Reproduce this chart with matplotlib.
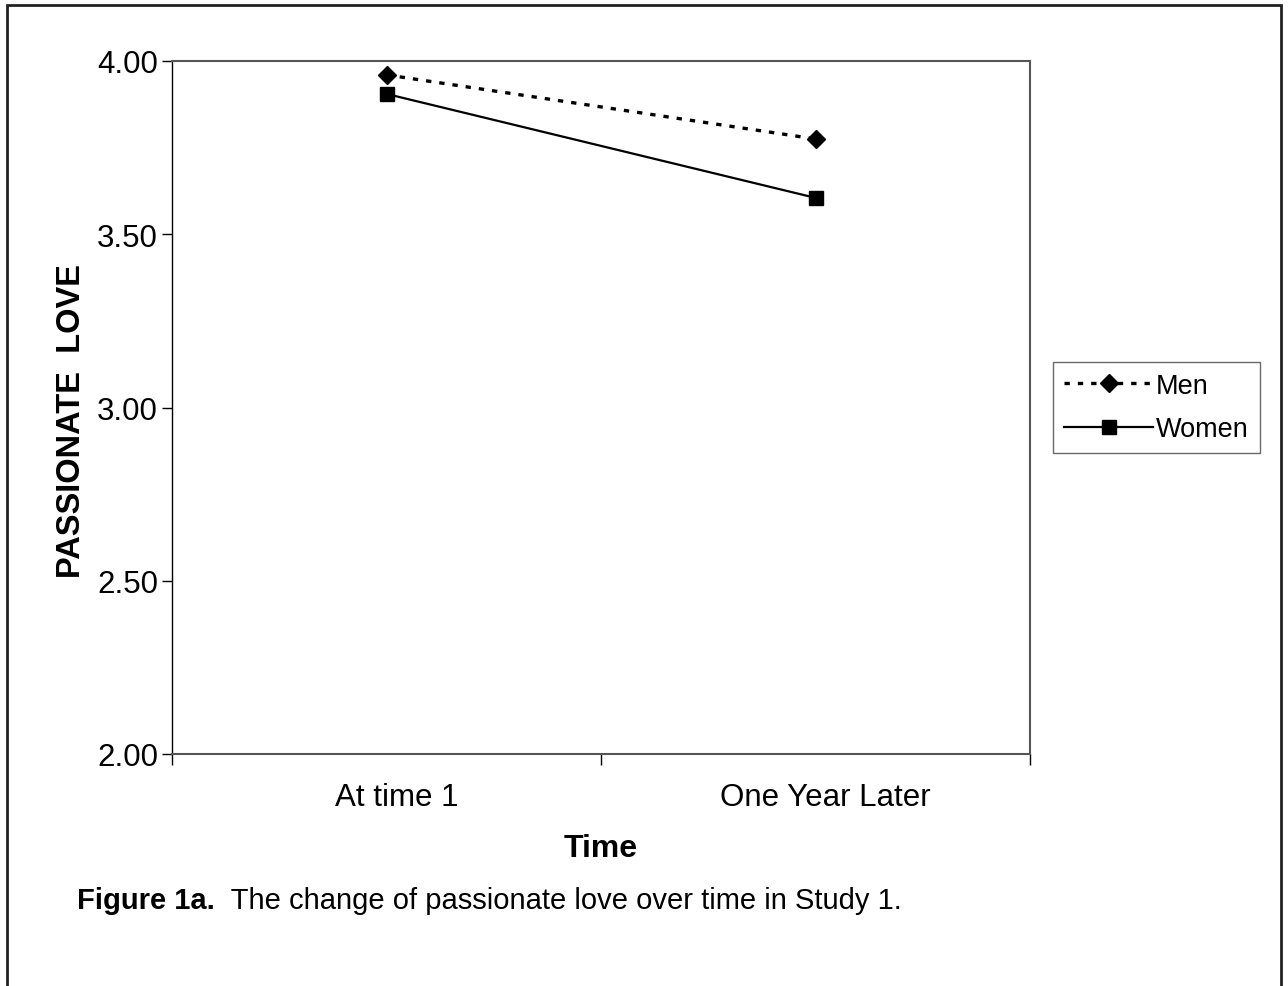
import numpy as np
import matplotlib.pyplot as plt
from matplotlib.patches import Rectangle
from matplotlib.transforms import ScaledTranslation

plt.rcParams['font.family'] = ['Liberation Sans', 'DejaVu Sans']

# data
times = ["At time 1", "One Year Later"]
men = [3.96, 3.775]
women = [3.905, 3.605]
y_ticks = [2.00, 2.50, 3.00, 3.50, 4.00]

fig = plt.figure(figsize=(12.88, 9.87), dpi=100)
ax = fig.add_axes([172 / 1288, 1 - 755 / 987, (1030 - 172) / 1288, (755 - 62) / 987])

x = np.arange(len(times)) + 0.5
ax.plot(x, men, color='black', lw=2.4, linestyle=(0, (1.6, 2.4)),
        dash_capstyle='butt', marker='D', ms=9, label='Men')
ax.plot(x, women, color='black', lw=1.6, marker='s', ms=10, label='Women')

ax.set_xlim(0, 2)
ax.set_ylim(2, 4)
ax.set_yticks(y_ticks)
ax.set_yticklabels([f"{v:.2f}" for v in y_ticks], fontsize=22.5)
ax.set_xticks([0, 1, 2])
ax.set_xticklabels([])
ax.set_xticks(x, minor=True)
ax.set_xticklabels(times, minor=True, fontsize=22.5)
ax.tick_params(axis='x', which='minor', length=0, pad=20)
ax.tick_params(axis='x', which='major', length=8, width=1, direction='out')
ax.tick_params(axis='y', length=7, width=1, direction='out', pad=3)
# the category labels sit a little right of the points in the original
for lbl in ax.get_xticklabels(minor=True):
    lbl.set_transform(lbl.get_transform() + ScaledTranslation(0.1, 0, fig.dpi_scale_trans))

for side in ['top', 'right', 'bottom']:
    ax.spines[side].set_color('#555555')
    ax.spines[side].set_linewidth(1.5)
ax.spines['left'].set_color('black')
ax.spines['left'].set_linewidth(1)

ax.set_ylabel("PASSIONATE  LOVE", fontsize=23.5, fontweight='bold')
ax.yaxis.set_label_coords(-0.099, 0.482)
ax.set_xlabel("Time", fontsize=23, fontweight='bold', labelpad=15)

leg = fig.legend(loc='upper left', bbox_to_anchor=(1053 / 1288, 1 - 363 / 987),
                 fontsize=19.5, frameon=True, fancybox=False, handlelength=3.3,
                 handletextpad=0.1, borderpad=0.4, labelspacing=0.65,
                 borderaxespad=0)
leg.get_frame().set_edgecolor('#444444')
leg.get_frame().set_linewidth(1)

# caption: bold label followed by regular text
cap = fig.text(77 / 1288, 1 - 909 / 987, "Figure 1a.", fontsize=21,
               fontweight='bold', va='baseline')
ax.annotate("  The change of passionate love over time in Study 1.",
            xy=(1, 0), xycoords=cap, fontsize=21, va='bottom',
            annotation_clip=False)

# outer frame, open at the bottom
fig.patches.append(Rectangle((7 / 1288, -0.05), (1281 - 7) / 1288, 1 - 6 / 987 + 0.05,
                             transform=fig.transFigure, fill=False,
                             edgecolor='#222222', lw=2))

fig.savefig('out.png', dpi=100)
